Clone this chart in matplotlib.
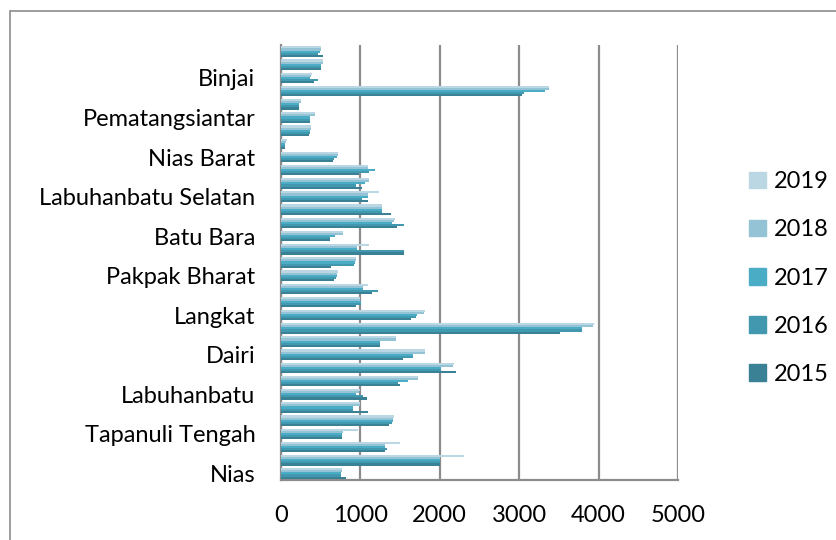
import matplotlib.pyplot as plt
from matplotlib.patches import Patch, Rectangle
import numpy as np

plt.rcParams['font.family'] = ['Lato', 'DejaVu Sans']

regions = ["Nias", "Mandailing Natal", "Tapanuli Selatan", "Tapanuli Tengah",
           "Tapanuli Utara", "Toba Samosir", "Labuhanbatu", "Asahan",
           "Simalungun", "Dairi", "Karo", "Deli Serdang", "Langkat",
           "Nias Selatan", "Humbang Hasundutan", "Pakpak Bharat", "Samosir",
           "Serdang Bedagai", "Batu Bara", "Padang Lawas Utara", "Padang Lawas",
           "Labuhanbatu Selatan", "Labuhanbatu Utara", "Nias Utara",
           "Nias Barat", "Sibolga", "Tanjungbalai", "Pematangsiantar",
           "Tebing Tinggi", "Medan", "Binjai", "Padangsidimpuan", "Gunungsitoli"]

years = ["2015", "2016", "2017", "2018", "2019"]

v2015 = [820, 2000, 1310, 770, 1360, 1090, 1080, 1500, 2210, 1540, 1250, 3510,
         1640, 940, 1150, 670, 630, 1550, 620, 1460, 1390, 1100, 1020, 980,
         650, 50, 350, 370, 230, 3030, 410, 510, 530]
v2016 = [760, 2000, 1340, 770, 1400, 910, 1030, 1480, 2010, 1660, 1250, 3790,
         1700, 1010, 1220, 690, 920, 1550, 620, 1550, 1270, 1020, 940, 1110,
         670, 50, 360, 370, 230, 3060, 460, 510, 460]
v2017 = [760, 2000, 1310, 770, 1410, 910, 940, 1600, 2010, 1660, 1250, 3790,
         1710, 1010, 1030, 700, 930, 960, 680, 1400, 1270, 1100, 1060, 1180,
         700, 50, 360, 370, 230, 3320, 370, 510, 490]
v2018 = [770, 2000, 1310, 780, 1410, 1000, 980, 1730, 2170, 1810, 1450, 3930,
         1800, 1000, 1030, 710, 950, 960, 780, 1420, 1270, 1100, 1110, 1090,
         720, 60, 380, 430, 250, 3380, 380, 530, 500]
v2019 = [770, 2300, 1500, 970, 1420, 1000, 990, 1730, 2180, 1820, 1450, 3940,
         1810, 1000, 1100, 720, 950, 1110, 780, 1430, 1270, 1240, 1110, 1090,
         720, 70, 380, 430, 250, 3380, 390, 530, 510]

series = [v2015, v2016, v2017, v2018, v2019]
colors = ["#3a8196", "#4298af", "#4bacc6", "#93c3d4", "#bbd7e3"]

fig = plt.figure(figsize=(8.37, 5.4), dpi=100)
ax = fig.add_axes([0.3357, 0.1111, 0.4743, 0.8056])

y = np.arange(len(regions))
h = 0.16
for i, vals in enumerate(series):
    ax.barh(y - 0.4 + h / 2 + i * h, vals, height=h, color=colors[i], zorder=3)

ax.set_xlim(0, 5000)
ax.set_ylim(-0.5, len(regions) - 0.5)
ax.set_xticks(range(0, 5001, 1000))
ax.set_yticks(y[::3])
ax.set_yticklabels(regions[::3])
ax.tick_params(axis='both', length=0, labelsize=17, colors='black')
ax.tick_params(axis='y', pad=18.5)
ax.tick_params(axis='x', pad=18)
ax.xaxis.grid(True, color='#8c8c8c', linewidth=1.6, zorder=0)
for side in ['top', 'right']:
    ax.spines[side].set_visible(False)
for side in ['left', 'bottom']:
    ax.spines[side].set_color('#8c8c8c')
    ax.spines[side].set_linewidth(1.6)

handles = [Patch(color=colors[i], label=years[i]) for i in range(4, -1, -1)]
fig.legend(handles=handles, loc='center left', bbox_to_anchor=(0.87, 0.485),
           frameon=False, fontsize=17, handlelength=0.7, handleheight=0.7,
           handletextpad=0.35, labelspacing=1.15)

# chart frame
fig.patches.append(Rectangle((10 / 837, -0.1), 1.2, 1 - 11 / 540 + 0.1,
                             transform=fig.transFigure, fill=False,
                             edgecolor='#8c8c8c', linewidth=1.2))

fig.savefig("out.png", dpi=100)
